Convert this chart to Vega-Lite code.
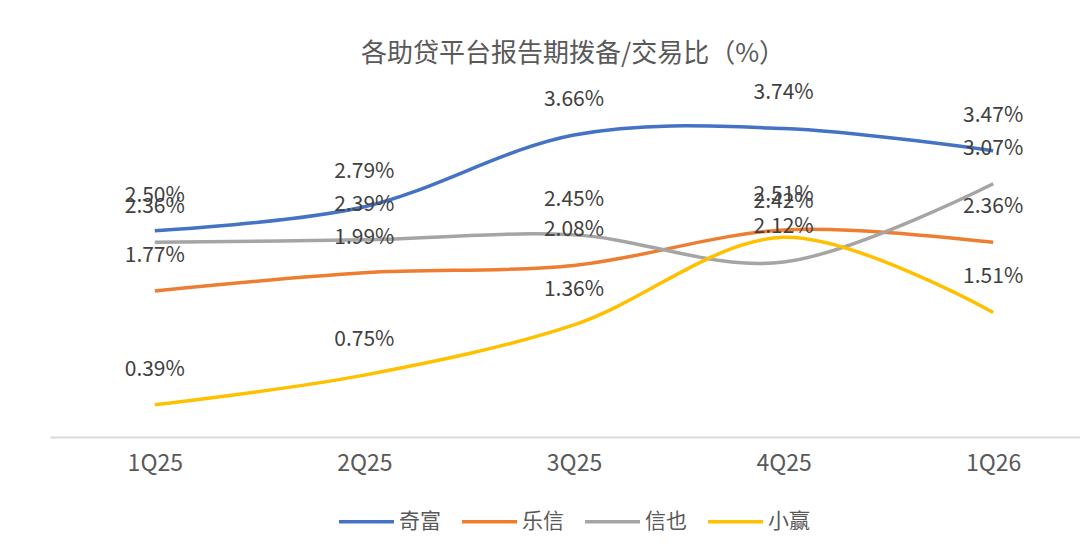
{
  "$schema": "https://vega.github.io/schema/vega-lite/v6.json",
  "width": 1048,
  "height": 330,
  "autosize": {"type": "none"},
  "padding": {"left": 50, "top": 107, "right": 0, "bottom": 110},
  "background": "white",
  "title": {
    "text": "各助贷平台报告期拨备/交易比（%）",
    "font": "Noto Sans CJK SC",
    "fontSize": 26,
    "fontWeight": "normal",
    "color": "#595959",
    "baseline": "bottom",
    "offset": -11,
    "dx": -1
  },
  "config": {
    "view": {"stroke": null},
    "font": "Noto Sans CJK SC"
  },
  "data": {
    "values": [
      {"q": "1Q25", "s": "奇富", "v": 2.50},
      {"q": "2Q25", "s": "奇富", "v": 2.79},
      {"q": "3Q25", "s": "奇富", "v": 3.66},
      {"q": "4Q25", "s": "奇富", "v": 3.74},
      {"q": "1Q26", "s": "奇富", "v": 3.47},
      {"q": "1Q25", "s": "乐信", "v": 1.77},
      {"q": "2Q25", "s": "乐信", "v": 1.99},
      {"q": "3Q25", "s": "乐信", "v": 2.08},
      {"q": "4Q25", "s": "乐信", "v": 2.51},
      {"q": "1Q26", "s": "乐信", "v": 2.36},
      {"q": "1Q25", "s": "信也", "v": 2.36},
      {"q": "2Q25", "s": "信也", "v": 2.39},
      {"q": "3Q25", "s": "信也", "v": 2.45},
      {"q": "4Q25", "s": "信也", "v": 2.12},
      {"q": "1Q26", "s": "信也", "v": 3.07},
      {"q": "1Q25", "s": "小赢", "v": 0.39},
      {"q": "2Q25", "s": "小赢", "v": 0.75},
      {"q": "3Q25", "s": "小赢", "v": 1.36},
      {"q": "4Q25", "s": "小赢", "v": 2.42},
      {"q": "1Q26", "s": "小赢", "v": 1.51}
    ]
  },
  "encoding": {
    "x": {
      "field": "q", "type": "ordinal",
      "sort": ["1Q25", "2Q25", "3Q25", "4Q25", "1Q26"],
      "scale": {"type": "point", "padding": 0.5},
      "axis": {
        "title": null, "labelAngle": 0, "ticks": false,
        "labelFontSize": 23, "labelColor": "#595959", "labelPadding": 15,
        "domainColor": "#D9D9D9", "domainWidth": 2, "grid": false
      }
    },
    "y": {
      "field": "v", "type": "quantitative",
      "scale": {"domain": [0, 4], "nice": false},
      "axis": null
    }
  },
  "layer": [
    {
      "mark": {"type": "line", "interpolate": "cardinal", "strokeWidth": 3.5, "clip": false},
      "encoding": {
        "color": {
          "field": "s", "type": "nominal",
          "sort": ["奇富", "乐信", "信也", "小赢"],
          "scale": {"domain": ["奇富", "乐信", "信也", "小赢"], "range": ["#4472C4", "#ED7D31", "#A5A5A5", "#FFC000"]},
          "legend": {
            "title": null, "orient": "none", "direction": "horizontal",
            "legendX": 287, "legendY": 385,
            "symbolType": "stroke", "symbolSize": 3025, "symbolStrokeWidth": 3.5,
            "labelFontSize": 21, "labelColor": "#595959", "labelOffset": 3,
            "columnPadding": 14
          }
        }
      }
    },
    {
      "transform": [{"calculate": "format(datum.v, '.2f') + '%'", "as": "lbl"}],
      "mark": {"type": "text", "dy": -35, "fontSize": 21, "color": "#404040", "baseline": "middle"},
      "encoding": {
        "text": {"field": "lbl", "type": "nominal"},
        "detail": {"field": "s"}
      }
    }
  ]
}
